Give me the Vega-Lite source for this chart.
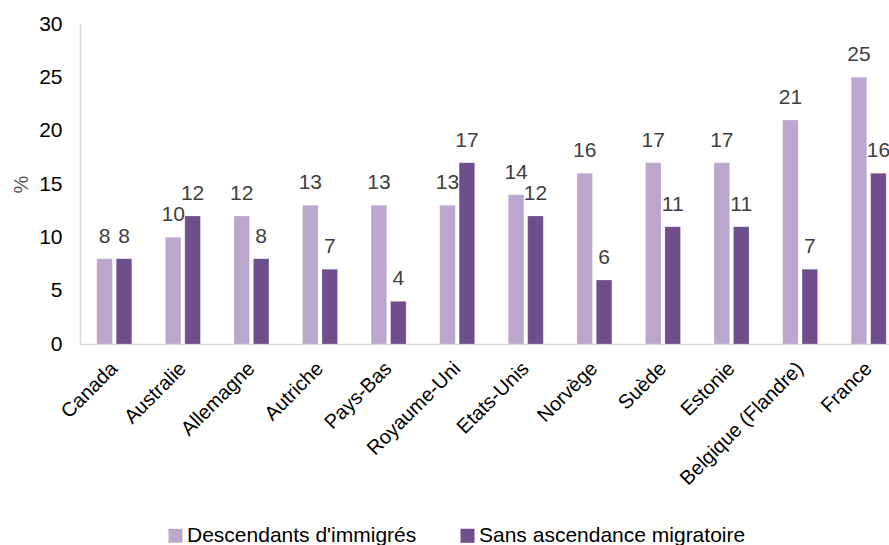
{
  "$schema": "https://vega.github.io/schema/vega-lite/v6.json",
  "autosize": {"type": "none"},
  "width": 823,
  "height": 320,
  "padding": {"left": 80, "top": 24, "right": 0, "bottom": 201},
  "background": "white",
  "config": {
    "view": {"stroke": null},
    "font": "Liberation Sans"
  },
  "data": {
    "values": [
      {"pays": "Canada", "groupe": "Descendants d'immigrés", "valeur": 8},
      {"pays": "Canada", "groupe": "Sans ascendance migratoire", "valeur": 8},
      {"pays": "Australie", "groupe": "Descendants d'immigrés", "valeur": 10},
      {"pays": "Australie", "groupe": "Sans ascendance migratoire", "valeur": 12},
      {"pays": "Allemagne", "groupe": "Descendants d'immigrés", "valeur": 12},
      {"pays": "Allemagne", "groupe": "Sans ascendance migratoire", "valeur": 8},
      {"pays": "Autriche", "groupe": "Descendants d'immigrés", "valeur": 13},
      {"pays": "Autriche", "groupe": "Sans ascendance migratoire", "valeur": 7},
      {"pays": "Pays-Bas", "groupe": "Descendants d'immigrés", "valeur": 13},
      {"pays": "Pays-Bas", "groupe": "Sans ascendance migratoire", "valeur": 4},
      {"pays": "Royaume-Uni", "groupe": "Descendants d'immigrés", "valeur": 13},
      {"pays": "Royaume-Uni", "groupe": "Sans ascendance migratoire", "valeur": 17},
      {"pays": "Etats-Unis", "groupe": "Descendants d'immigrés", "valeur": 14},
      {"pays": "Etats-Unis", "groupe": "Sans ascendance migratoire", "valeur": 12},
      {"pays": "Norvège", "groupe": "Descendants d'immigrés", "valeur": 16},
      {"pays": "Norvège", "groupe": "Sans ascendance migratoire", "valeur": 6},
      {"pays": "Suède", "groupe": "Descendants d'immigrés", "valeur": 17},
      {"pays": "Suède", "groupe": "Sans ascendance migratoire", "valeur": 11},
      {"pays": "Estonie", "groupe": "Descendants d'immigrés", "valeur": 17},
      {"pays": "Estonie", "groupe": "Sans ascendance migratoire", "valeur": 11},
      {"pays": "Belgique (Flandre)", "groupe": "Descendants d'immigrés", "valeur": 21},
      {"pays": "Belgique (Flandre)", "groupe": "Sans ascendance migratoire", "valeur": 7},
      {"pays": "France", "groupe": "Descendants d'immigrés", "valeur": 25},
      {"pays": "France", "groupe": "Sans ascendance migratoire", "valeur": 16}
    ]
  },
  "encoding": {
    "x": {
      "field": "pays", "type": "nominal", "sort": null,
      "scale": {"paddingInner": 0.49, "paddingOuter": 0.245},
      "axis": {
        "title": null, "labelAngle": -45, "labelAlign": "right", "labelBaseline": "top",
        "labelFontSize": 20, "labelColor": "#000000", "labelPadding": 14, "labelOffset": -7,
        "ticks": false, "domainColor": "#d9d9d9", "domainWidth": 1.5, "labelLimit": 300
      }
    },
    "xOffset": {"field": "groupe", "type": "nominal", "scale": {"paddingInner": 0.2}},
    "y": {
      "field": "valeur", "type": "quantitative",
      "scale": {"domain": [0, 30]},
      "axis": {
        "title": "%", "titleFontSize": 20, "titleFontWeight": "normal", "titleColor": "#595959",
        "titleX": -49, "titleY": 160, "titleAngle": -90, "titleBaseline": "bottom", "titleAlign": "center",
        "values": [0, 5, 10, 15, 20, 25, 30], "grid": false, "ticks": false,
        "labelFontSize": 21, "labelColor": "#000000", "labelPadding": 18,
        "domainColor": "#d9d9d9", "domainWidth": 1.5
      }
    }
  },
  "layer": [
    {
      "mark": {"type": "bar", "stroke": "#ffffff", "strokeOpacity": 0.4, "strokeWidth": 0.5},
      "encoding": {
        "color": {
          "field": "groupe", "type": "nominal",
          "scale": {"domain": ["Descendants d'immigrés", "Sans ascendance migratoire"], "range": ["#bba6cc", "#6f4f8b"]},
          "legend": {
            "title": null, "orient": "none", "direction": "horizontal",
            "legendX": 85, "legendY": 501,
            "symbolType": "square", "symbolSize": 196, "symbolStrokeWidth": 0,
            "labelFontSize": 21, "labelColor": "#000000", "labelOffset": 1, "labelLimit": 400,
            "columnPadding": 40
          }
        }
      }
    },
    {
      "mark": {"type": "text", "baseline": "alphabetic", "dy": -16, "fontSize": 21, "color": "#404040"},
      "encoding": {"text": {"field": "valeur", "type": "quantitative"}}
    }
  ]
}
